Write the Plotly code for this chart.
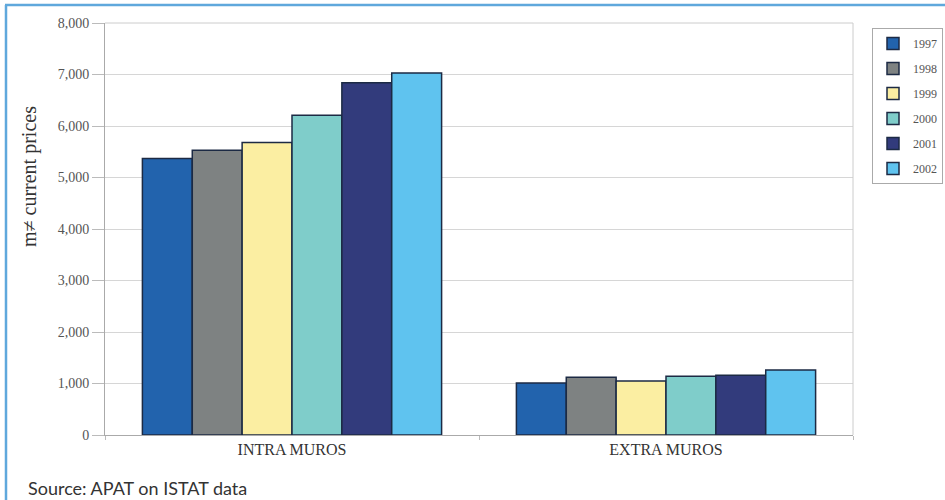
import plotly.graph_objects as go

categories = ["INTRA MUROS", "EXTRA MUROS"]
years = ["1997", "1998", "1999", "2000", "2001", "2002"]
values = {
    "1997": [5370, 1010],
    "1998": [5530, 1120],
    "1999": [5680, 1050],
    "2000": [6210, 1140],
    "2001": [6840, 1160],
    "2002": [7030, 1260],
}
colors = ["#2263ad", "#7e8282", "#fbeea2", "#7fcdca", "#323b7c", "#5fc3ef"]
y_ticks = [0, 1000, 2000, 3000, 4000, 5000, 6000, 7000, 8000]

serif = "Liberation Serif, Times New Roman, serif"

ML, MR, MT, MB = 105, 92, 23, 65
W, H = 945, 500
pw, ph = W - ML - MR, H - MT - MB


def px(x):
    return (x - ML) / pw


def py(y):
    return (H - MB - y) / ph


fig = go.Figure()
for yr, col in zip(years, colors):
    fig.add_trace(go.Bar(
        name=yr, x=categories, y=values[yr], legendgroup=yr,
        marker=dict(color=col, line=dict(color="#1c2a44", width=1.5)),
    ))

fig.update_layout(
    width=W, height=H,
    margin=dict(l=ML, r=MR, t=MT, b=MB, autoexpand=False),
    paper_bgcolor="white", plot_bgcolor="white",
    barmode="group", bargap=0.2, bargroupgap=0,
    font=dict(family=serif, size=11, color="#444"),
    legend=dict(
        x=px(872), y=py(28), xanchor="left", yanchor="top",
        bordercolor="#aaaaaa", borderwidth=1,
        font=dict(family=serif, size=12, color="#555"),
        tracegroupgap=6, traceorder="grouped",
        itemwidth=30,
    ),
    xaxis=dict(
        automargin=False,
        showgrid=False, showline=True, linecolor="#aaaaaa",
        ticks="outside", tickson="boundaries", ticklen=4, tickcolor="#bbbbbb",
        tickfont=dict(family=serif, size=16, color="#333"),
    ),
    yaxis=dict(
        automargin=False,
        range=[0, 8000], tickvals=y_ticks, tickformat=",",
        showgrid=True, gridcolor="#d6d6d6", gridwidth=1,
        showline=True, linecolor="#aaaaaa", linewidth=1,
        ticks="outside", ticklen=12, tickcolor="#bbbbbb",
        tickfont=dict(family=serif, size=14, color="#555"),
        zeroline=False,
    ),
    shapes=[
        dict(type="line", xref="paper", yref="paper", x0=1, x1=1, y0=0, y1=1,
             line=dict(color="#cccccc", width=1)),
        dict(type="line", xref="paper", yref="paper", x0=0, x1=1, y0=1, y1=1,
             line=dict(color="#cccccc", width=1)),
        # outer light-blue frame (top and left edges)
        dict(type="line", xref="paper", yref="paper",
             x0=px(5), x1=px(W), y0=py(5), y1=py(5),
             line=dict(color="#5fa8dc", width=2.5)),
        dict(type="line", xref="paper", yref="paper",
             x0=px(6), x1=px(6), y0=py(5), y1=py(H),
             line=dict(color="#5fa8dc", width=2.5)),
    ],
    annotations=[
        dict(text="m≠ current prices", xref="paper", yref="paper",
             x=px(30), y=py(177), textangle=-90, showarrow=False,
             xanchor="center", yanchor="middle",
             font=dict(family=serif, size=20, color="#333")),
        dict(text="Source: APAT on ISTAT data", xref="paper", yref="paper",
             x=px(26), y=py(488), xanchor="left", yanchor="middle", showarrow=False,
             font=dict(family="Lato, Noto Sans, sans-serif", size=18, color="#333")),
    ],
)

fig.write_html(
    "out.html",
    config={"displayModeBar": False},
    post_script="document.body.style.margin='0';document.body.style.padding='0';",
)
